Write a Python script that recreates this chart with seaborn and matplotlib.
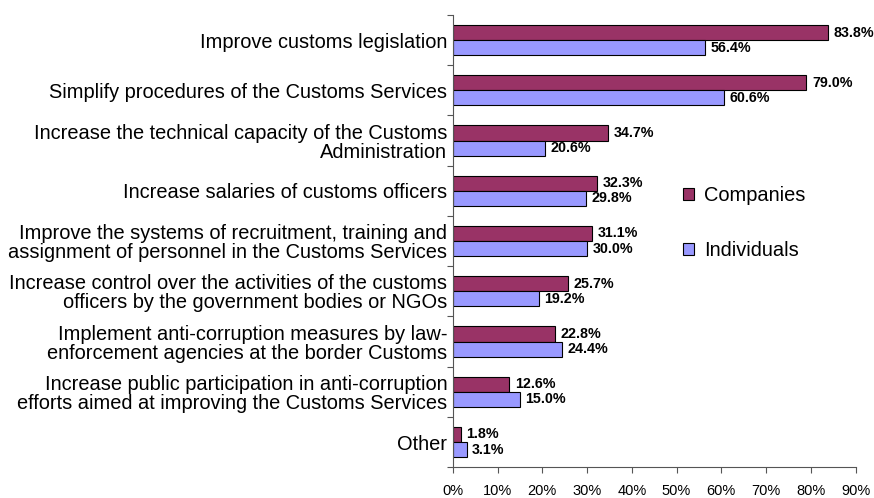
import matplotlib
matplotlib.use("Agg")
import matplotlib.pyplot as plt
from matplotlib.ticker import PercentFormatter
import pandas as pd
import seaborn as sns

categories = [
    "Improve customs legislation",
    "Simplify procedures of the Customs Services",
    "Increase the technical capacity of the Customs\nAdministration",
    "Increase salaries of customs officers",
    "Improve the systems of recruitment, training and\nassignment of personnel in the Customs Services",
    "Increase control over the activities of the customs\nofficers by the government bodies or NGOs",
    "Implement anti-corruption measures by law-\nenforcement agencies at the border Customs",
    "Increase public participation in anti-corruption\nefforts aimed at improving the Customs Services",
    "Other",
]
companies = [83.8, 79.0, 34.7, 32.3, 31.1, 25.7, 22.8, 12.6, 1.8]
individuals = [56.4, 60.6, 20.6, 29.8, 30.0, 19.2, 24.4, 15.0, 3.1]
series_names = ["Companies", "Individuals"]
colors = ["#993366", "#9999FF"]

df = pd.DataFrame({
    "category": categories * 2,
    "value": companies + individuals,
    "series": [series_names[0]] * len(categories) + [series_names[1]] * len(categories),
})

sns.set_style("white")
plt.rcParams["font.family"] = ["Liberation Sans", "DejaVu Sans"]
plt.rcParams["text.color"] = "black"
plt.rcParams["xtick.color"] = "black"
plt.rcParams["ytick.color"] = "black"

fig = plt.figure(figsize=(8.74, 4.98), dpi=100)
ax = fig.add_axes([0.518, 0.062, 0.461, 0.908])

sns.barplot(
    data=df, y="category", x="value", hue="series", orient="h",
    palette=colors, saturation=1, width=0.6, edgecolor="black", linewidth=0.8,
    ax=ax, legend=True,
)

for container in ax.containers:
    ax.bar_label(container, labels=[f"{v:.1f}%" for v in container.datavalues],
                 padding=4, fontsize=10.3, fontweight="bold", color="black")

ax.set_xlim(0, 90)
ax.set_ylim(len(categories) - 0.5, -0.5)
ax.set_xticks(range(0, 91, 10))
ax.xaxis.set_major_formatter(PercentFormatter(decimals=0))
ax.set_yticks([i - 0.5 for i in range(len(categories) + 1)], minor=False)
ax.set_yticklabels([])
ax.set_yticks(range(len(categories)), minor=True)
ax.set_yticklabels(categories, minor=True, fontsize=14.4, ha="right", linespacing=1.0, color="black")
ax.tick_params(axis="y", which="minor", length=0, pad=4)
ax.tick_params(axis="y", which="major", length=4, width=0.8, color="#555555", direction="out", left=True)
ax.tick_params(axis="x", length=4, width=0.8, color="#555555", labelcolor="black",
               direction="out", bottom=True, labelsize=10.5, pad=8)
ax.set_xlabel("")
ax.set_ylabel("")

for side in ["top", "right"]:
    ax.spines[side].set_visible(False)
for side in ["left", "bottom"]:
    ax.spines[side].set_color("#555555")
    ax.spines[side].set_linewidth(0.8)

handles, labels = ax.get_legend_handles_labels()
fig.legend(handles, labels, loc="center left", bbox_to_anchor=(0.782, 0.552),
           bbox_transform=fig.transFigure, frameon=False, fontsize=14.4,
           handlelength=0.55, handleheight=0.55, labelspacing=1.78,
           handletextpad=0.5, borderpad=0, borderaxespad=0, labelcolor="black")
ax.get_legend().remove()

fig.savefig("out.png", dpi=100)
